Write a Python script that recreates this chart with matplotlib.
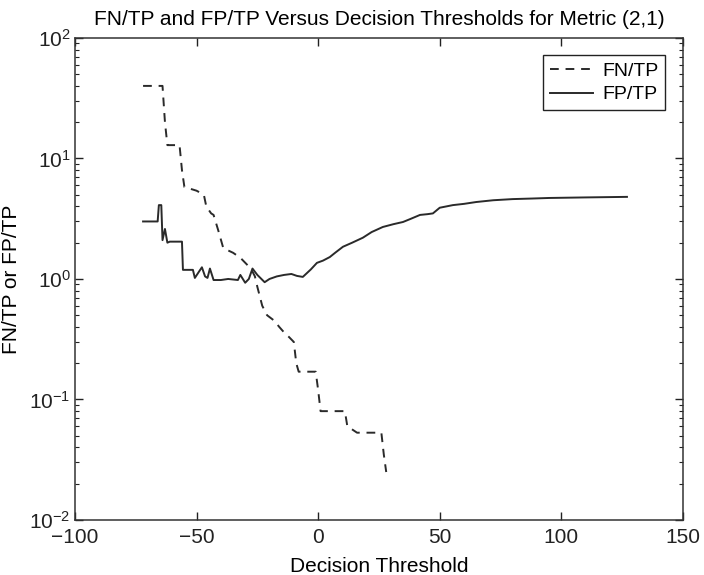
import matplotlib
matplotlib.use("Agg")
import matplotlib.pyplot as plt
from matplotlib.ticker import LogLocator, NullFormatter

plt.rcParams['font.family'] = ['Liberation Sans', 'DejaVu Sans']
plt.rcParams['mathtext.fontset'] = 'custom'
plt.rcParams['mathtext.rm'] = 'Liberation Sans'
plt.rcParams['mathtext.it'] = 'Liberation Sans'

# FN/TP (dashed)
fn_x = [-72, -64, -63, -62, -57, -56, -55, -50, -47, -46, -44, -43, -41, -39,
        -35, -32, -29, -27, -26, -25, -23, -21, -18, -16, -14, -12, -10, -9,
        -8, -1, 0, 1, 4, 11, 12, 16, 26, 27, 28]
fn_y = [40, 40, 20, 12.9, 12.9, 8, 5.8, 5.4, 5.0, 4.0, 3.5, 3.4, 2.5, 1.8,
        1.65, 1.5, 1.3, 1.15, 1.05, 0.86, 0.6, 0.5, 0.45, 0.40, 0.36, 0.33,
        0.30, 0.2, 0.17, 0.17, 0.12, 0.08, 0.08, 0.08, 0.06, 0.053, 0.053,
        0.035, 0.025]

# FP/TP (solid)
fp_x = [-72, -66, -65.5, -64.5, -64, -63, -62, -61, -56, -55.6, -53, -51.5,
        -50.7, -49, -47.8, -46.5, -45.5, -44.5, -43, -40, -37, -33, -32, -30,
        -28.5, -27, -25, -22, -20, -17, -14, -11, -8.7, -6.3, -3, -0.5, 2,
        4.8, 7, 10.2, 14, 18.4, 22, 26.6, 31, 34.9, 38, 41.9, 45, 47.2, 50,
        55.4, 60, 65, 72, 80, 88, 95, 110, 127]
fp_y = [3.0, 3.0, 4.1, 4.1, 2.1, 2.6, 2.0, 2.04, 2.04, 1.19, 1.19, 1.19,
        1.02, 1.15, 1.25, 1.05, 1.02, 1.22, 0.98, 0.98, 1.0, 0.98, 1.08, 0.93,
        1.0, 1.22, 1.08, 0.94, 1.0, 1.05, 1.08, 1.1, 1.06, 1.04, 1.2, 1.36,
        1.42, 1.52, 1.65, 1.85, 2.0, 2.2, 2.45, 2.7, 2.85, 2.97, 3.15, 3.4,
        3.45, 3.5, 3.9, 4.1, 4.2, 4.35, 4.5, 4.6, 4.65, 4.7, 4.75, 4.8]

x_ticks = [-100, -50, 0, 50, 100, 150]

fig = plt.figure(figsize=(7.04, 5.75), dpi=100)
ax = fig.add_axes([0.1065, 0.0957, 0.8635, 0.8383])

line_col = '#2a2a2a'
ax.plot(fn_x, fn_y, color=line_col, lw=1.4, ls=(0, (4.5, 3.5)), label='FN/TP')
ax.plot(fp_x, fp_y, color=line_col, lw=1.4, ls='-', label='FP/TP')

ax.set_yscale('log')
ax.set_xlim(-100, 150)
ax.set_ylim(1e-2, 1e2)
ax.set_xticks(x_ticks)
ax.set_xticklabels(['\u2212100', '\u221250', '0', '50', '100', '150'])
ax.yaxis.set_major_locator(LogLocator(base=10, numticks=10))
ax.yaxis.set_minor_locator(LogLocator(base=10, subs=range(2, 10), numticks=50))
ax.yaxis.set_minor_formatter(NullFormatter())

ax.tick_params(which='both', direction='in', top=True, right=True,
               labelsize=15, colors='#222222')
ax.tick_params(which='major', length=6, width=1)
ax.tick_params(which='minor', length=3, width=0.8)
ax.tick_params(axis='x', pad=6)
ax.tick_params(axis='y', pad=3)
for sp in ax.spines.values():
    sp.set_color('#333333')
    sp.set_linewidth(1.1)

ax.set_title('FN/TP and FP/TP Versus Decision Thresholds for Metric (2,1)',
             fontsize=15, pad=9)
ax.set_xlabel('Decision Threshold', fontsize=15, labelpad=7)
ax.set_ylabel('FN/TP or FP/TP', fontsize=15, labelpad=6)

leg = ax.legend(loc='upper right', fontsize=14, fancybox=False,
                framealpha=1, edgecolor='#222222', handlelength=2.2,
                borderaxespad=0.9, handletextpad=0.5, labelspacing=0.3,
                borderpad=0.35)
leg.get_frame().set_linewidth(1.0)

fig.savefig('out.png', dpi=100)
